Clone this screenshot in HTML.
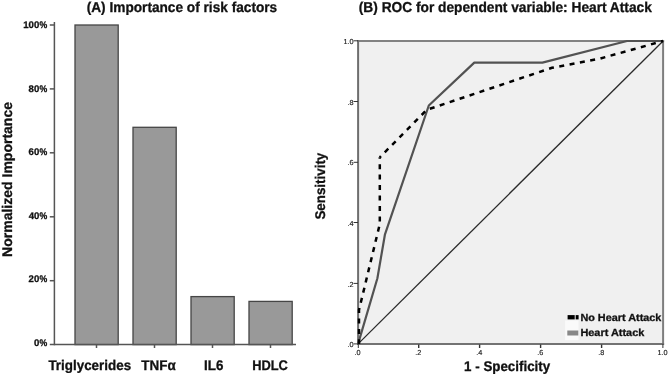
<!DOCTYPE html>
<html>
<head>
<meta charset="utf-8">
<style>
html,body{margin:0;padding:0;background:#fff;}
body{width:669px;height:375px;overflow:hidden;}
svg{display:block;filter:grayscale(1);}
text{font-family:"Liberation Sans",sans-serif;fill:#111;text-rendering:geometricPrecision;}
.b{font-weight:bold;stroke:#111;stroke-width:0.3px;}
</style>
</head>
<body>
<svg width="669" height="375" viewBox="0 0 669 375">
<rect x="0" y="0" width="669" height="375" fill="#fff"/>

<!-- ===== Chart A ===== -->
<text id="tA" class="b" x="86.7" y="12.1" font-size="14.3" textLength="190.5" lengthAdjust="spacingAndGlyphs">(A) Importance of risk factors</text>

<!-- bars -->
<g fill="#999" stroke="#464646" stroke-width="1.3">
<rect x="75" y="25" width="43.2" height="319.6"/>
<rect x="133" y="127.3" width="43.2" height="217.3"/>
<rect x="191" y="296.6" width="43.2" height="48"/>
<rect x="249" y="301.4" width="43.2" height="43.2"/>
</g>

<!-- axes -->
<g stroke="#555" stroke-width="1.5" fill="none">
<line x1="54.4" y1="21.9" x2="54.4" y2="345.3"/>
<line x1="49.8" y1="344.6" x2="296" y2="344.6"/>
<line x1="49.8" y1="25" x2="54.4" y2="25"/>
<line x1="49.8" y1="88.9" x2="54.4" y2="88.9"/>
<line x1="49.8" y1="152.8" x2="54.4" y2="152.8"/>
<line x1="49.8" y1="216.8" x2="54.4" y2="216.8"/>
<line x1="49.8" y1="280.7" x2="54.4" y2="280.7"/>
<line x1="96.5" y1="344.6" x2="96.5" y2="348"/>
<line x1="154.5" y1="344.6" x2="154.5" y2="348"/>
<line x1="212.5" y1="344.6" x2="212.5" y2="348"/>
<line x1="270.5" y1="344.6" x2="270.5" y2="348"/>
</g>

<!-- y tick labels -->
<g class="b" font-size="9.6">
<text class="b" x="23.3 28.52 34.12" y="28.2">100</text>
<text class="b" transform="translate(39.58,28.2) scale(0.908,1)">%</text>
<text class="b" x="28.59 34.12" y="91.7">80</text>
<text class="b" transform="translate(39.58,91.7) scale(0.908,1)">%</text>
<text class="b" x="28.54 34.12" y="155.2">60</text>
<text class="b" transform="translate(39.58,155.2) scale(0.908,1)">%</text>
<text class="b" x="28.76 34.12" y="218.7">40</text>
<text class="b" transform="translate(39.58,218.7) scale(0.908,1)">%</text>
<text class="b" x="28.56 34.12" y="282.2">20</text>
<text class="b" transform="translate(39.58,282.2) scale(0.908,1)">%</text>
<text class="b" x="34.12" y="345.7">0</text>
<text class="b" transform="translate(39.58,345.7) scale(0.908,1)">%</text>
</g>

<!-- x labels -->
<g font-size="14">
<text class="b" x="48.4" y="370.4" textLength="82.7" lengthAdjust="spacingAndGlyphs">Triglycerides</text>
<text class="b" x="141.3" y="370.4" textLength="34.4" lengthAdjust="spacingAndGlyphs">TNFα</text>
<text class="b" x="204" y="370.4" textLength="19.35" lengthAdjust="spacingAndGlyphs">IL6</text>
<text class="b" x="252.2" y="370.4" textLength="35.65" lengthAdjust="spacingAndGlyphs">HDLC</text>
</g>

<!-- y axis title -->
<text class="b" font-size="14" transform="translate(11.6,256.9) rotate(-90)" x="0" y="0" textLength="154.9" lengthAdjust="spacingAndGlyphs">Normalized Importance</text>

<!-- ===== Chart B ===== -->
<text id="tB" class="b" x="358.8" y="12.1" font-size="14.3" textLength="293" lengthAdjust="spacingAndGlyphs">(B) ROC for dependent variable: Heart Attack</text>

<rect x="358.1" y="41" width="305" height="302.9" fill="#f0f0f0"/>
<!-- legend white box -->
<rect x="565.1" y="320.5" width="13.4" height="19.6" fill="#fafafa"/>

<!-- border -->
<g stroke-width="2" fill="none">
<line x1="357.1" y1="41" x2="664.1" y2="41" stroke="#828282"/>
<line x1="663.1" y1="40" x2="663.1" y2="344.9" stroke="#7e7e7e"/>
<line x1="357.1" y1="343.9" x2="664.1" y2="343.9" stroke="#737373"/>
<line x1="358.1" y1="40" x2="358.1" y2="344.9" stroke="#6e6e6e"/>
</g>

<!-- diagonal -->
<line x1="358.1" y1="343.9" x2="663.1" y2="41" stroke="#2a2a2a" stroke-width="1.3"/>

<!-- solid curve: Heart Attack -->
<polyline fill="none" stroke="#525252" stroke-width="2.2" stroke-linejoin="round"
 points="358.1,343.9 377.4,278.2 384.9,234.7 428.8,105.5 474.3,62.6 542.4,62.6 627,41 663.1,41"/>

<!-- dashed curve: No Heart Attack -->
<polyline fill="none" stroke="#000" stroke-width="2.5" stroke-dasharray="5 5.45" stroke-dashoffset="0.44"
 points="359,343.9 359,310 379.8,224 379.8,157.3"/>
<polyline fill="none" stroke="#000" stroke-width="2.5" stroke-dasharray="5 5.485" stroke-dashoffset="3.4"
 points="379.8,157.3 426.8,109.8 552,67.8 600,58.6 663.1,41"/>


<!-- ticks -->
<g stroke="#333" stroke-width="1">
<line x1="353.6" y1="40.8" x2="358" y2="40.8"/>
<line x1="353.6" y1="101.5" x2="358" y2="101.5"/>
<line x1="353.6" y1="162.3" x2="358" y2="162.3"/>
<line x1="353.6" y1="222.5" x2="358" y2="222.5"/>
<line x1="353.6" y1="283.4" x2="358" y2="283.4"/>
<line x1="353.6" y1="343.9" x2="358" y2="343.9"/>
<line x1="358.3" y1="343.9" x2="358.3" y2="348"/>
<line x1="418.7" y1="344.5" x2="418.7" y2="348" stroke-width="1.4"/>
<line x1="479.6" y1="344.5" x2="479.6" y2="348" stroke-width="1.4"/>
<line x1="540.6" y1="344.5" x2="540.6" y2="348" stroke-width="1.4"/>
<line x1="601.6" y1="344.5" x2="601.6" y2="348" stroke-width="1.4"/>
<line x1="662.9" y1="343.9" x2="662.9" y2="348"/>
</g>

<g font-size="7.3" fill="#333" stroke="#333" stroke-width="0.15">
<text x="353.6" y="44.4" text-anchor="end">1.0</text>
<text x="353.6" y="104.8" text-anchor="end">.8</text>
<text x="353.6" y="165.4" text-anchor="end">.6</text>
<text x="353.6" y="225.9" text-anchor="end">.4</text>
<text x="353.6" y="286.5" text-anchor="end">.2</text>
<text x="353.6" y="347.1" text-anchor="end">.0</text>
<text x="357.6" y="355.2" text-anchor="middle">.0</text>
<text x="418.4" y="355.2" text-anchor="middle">.2</text>
<text x="479.4" y="355.2" text-anchor="middle">.4</text>
<text x="540.3" y="355.2" text-anchor="middle">.6</text>
<text x="601.3" y="355.2" text-anchor="middle">.8</text>
<text x="662.5" y="355.2" text-anchor="middle">1.0</text>
</g>

<!-- legend -->
<rect x="567.6" y="315.1" width="7.1" height="4.3" fill="#000"/>
<rect x="575.7" y="315.1" width="2.9" height="4.3" fill="#000"/>
<rect x="567.3" y="330.5" width="11" height="5" fill="#888"/>
<text class="b" font-size="10.3" x="580.4" y="320.8" textLength="80.95" lengthAdjust="spacingAndGlyphs">No Heart Attack</text>
<text class="b" font-size="10.3" x="580.4" y="335.5" textLength="63.9" lengthAdjust="spacingAndGlyphs">Heart Attack</text>

<!-- axis titles -->
<text class="b" font-size="14" x="464.1" y="370.5" textLength="86.05" lengthAdjust="spacingAndGlyphs">1 - Specificity</text>
<text class="b" font-size="14" transform="translate(325.2,219.6) rotate(-90)" x="0" y="0" textLength="66.9" lengthAdjust="spacingAndGlyphs">Sensitivity</text>
</svg>
</body>
</html>
